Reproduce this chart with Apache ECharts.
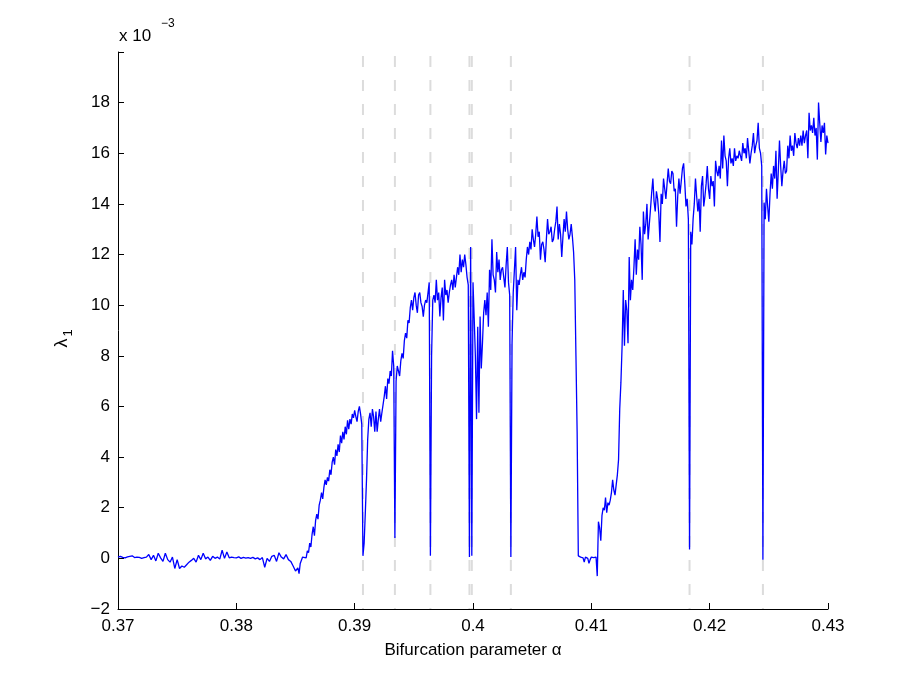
<!DOCTYPE html>
<html>
<head>
<meta charset="utf-8">
<script src="https://cdn.jsdelivr.net/npm/echarts@6/dist/echarts.min.js"></script>
<style>
  html, body { margin: 0; padding: 0; background: #fff; }
  #chart { width: 913px; height: 684px; }
</style>
</head>
<body>
<div id="chart"></div>
<script>
// lambda_1 (x 1e-3) against bifurcation parameter alpha
var quietPart = [
    [0.3700, 0.05], [0.3702, 0.08], [0.3704, 0.04], [0.3706, 0.02], [0.3708, 0.06], [0.3710, 0.08],
    [0.3712, 0.10], [0.3714, 0.03], [0.3716, 0.05], [0.3718, 0.04], [0.3720, 0.00], [0.3722, 0.03],
    [0.3724, 0.05], [0.3726, 0.15], [0.3728, -0.05], [0.3730, 0.12], [0.3732, -0.10], [0.3734, 0.20],
    [0.3736, 0.02], [0.3738, -0.12], [0.3740, 0.20], [0.3742, -0.05], [0.3744, -0.15], [0.3746, 0.05],
    [0.3748, -0.40], [0.3750, -0.05], [0.3752, -0.40], [0.3754, -0.30], [0.3756, -0.35], [0.3758, -0.25],
    [0.3760, -0.15], [0.3762, -0.08], [0.3764, 0.00], [0.3766, -0.15], [0.3768, 0.12], [0.3770, -0.05],
    [0.3772, 0.20], [0.3774, -0.02], [0.3776, 0.05], [0.3778, -0.08], [0.3780, 0.08], [0.3782, 0.00],
    [0.3784, 0.05], [0.3786, -0.03], [0.3788, 0.32], [0.3790, 0.00], [0.3792, 0.25], [0.3794, 0.02],
    [0.3796, 0.05], [0.3798, 0.03], [0.3800, 0.02], [0.3802, 0.06], [0.3804, 0.00], [0.3806, 0.04],
    [0.3808, 0.01], [0.3810, 0.03], [0.3812, 0.00], [0.3814, 0.04], [0.3816, -0.02], [0.3818, 0.02],
    [0.3820, -0.05], [0.3822, 0.03], [0.3824, -0.35], [0.3826, 0.00], [0.3828, -0.12], [0.3830, 0.08],
    [0.3832, 0.12], [0.3834, -0.12], [0.3836, 0.22], [0.3838, 0.05], [0.3840, -0.02], [0.3842, 0.15],
    [0.3844, -0.05], [0.3846, -0.12], [0.3848, -0.30], [0.3850, -0.50], [0.3852, -0.38], [0.3853, -0.60],
    [0.3854, -0.20]
];

var firstRise = [
    [0.3856, 0.05], [0.3857, 0.12], [0.3859, 0.02], [0.3860, 0.30], [0.3861, 0.22], [0.3862, 0.60],
    [0.3863, 0.45], [0.3864, 0.95], [0.3865, 1.25], [0.3866, 0.90], [0.3867, 1.50], [0.3868, 1.75],
    [0.3869, 1.55], [0.3870, 2.10], [0.3871, 2.30], [0.3872, 2.60], [0.3873, 2.35], [0.3874, 2.80],
    [0.3875, 3.10], [0.3876, 2.90], [0.3877, 3.20], [0.3878, 3.05], [0.3879, 3.50], [0.3880, 3.30],
    [0.3881, 3.80], [0.3882, 4.00], [0.3883, 3.70], [0.3884, 4.30], [0.3885, 4.05], [0.3886, 4.50],
    [0.3887, 4.20], [0.3888, 4.85], [0.3889, 4.55], [0.3890, 5.00], [0.3891, 4.70], [0.3892, 5.20],
    [0.3893, 4.90], [0.3894, 5.45], [0.3895, 5.10], [0.3896, 5.50], [0.3897, 5.30], [0.3898, 5.70],
    [0.3899, 5.55], [0.3900, 5.85], [0.3901, 5.60], [0.3902, 5.40], [0.3903, 5.80], [0.3904, 6.00],
    [0.3905, 5.70], [0.3906, 5.30], [0.3907, 0.10], [0.3908, 0.60], [0.3909, 1.80], [0.3910, 3.10],
    [0.3911, 4.70], [0.3912, 5.50], [0.3913, 5.75], [0.3914, 5.20], [0.3915, 5.90], [0.3916, 5.60],
    [0.3917, 5.00], [0.3918, 5.80], [0.3919, 5.00], [0.3920, 5.50], [0.3921, 5.90], [0.3922, 5.40],
    [0.3923, 5.75], [0.3925, 6.40], [0.3926, 6.80], [0.3927, 6.30], [0.3928, 7.10], [0.3929, 6.90],
    [0.3930, 7.40], [0.3931, 7.20], [0.3932, 8.20], [0.3933, 7.60], [0.3934, 0.80], [0.3935, 7.00],
    [0.3936, 7.60], [0.3937, 7.40], [0.3938, 7.20], [0.3939, 7.80], [0.3940, 8.10], [0.3941, 7.90],
    [0.3942, 8.60], [0.3943, 8.90], [0.3944, 8.70], [0.3945, 9.40], [0.3946, 9.30], [0.3947, 9.90],
    [0.3948, 10.20], [0.3949, 9.80], [0.3950, 10.30], [0.3951, 10.50], [0.3952, 10.00], [0.3953, 9.70],
    [0.3954, 10.40], [0.3955, 10.50], [0.3956, 10.10], [0.3957, 9.95], [0.3958, 9.55], [0.3959, 10.00],
    [0.3960, 10.20], [0.3961, 10.10], [0.3962, 10.50], [0.3963, 10.90], [0.3964, 0.10], [0.3965, 8.00],
    [0.3966, 10.20], [0.3967, 10.40], [0.3968, 10.10], [0.3969, 11.00], [0.3970, 10.20], [0.3971, 10.50],
    [0.3972, 9.55], [0.3973, 10.30], [0.3974, 10.70], [0.3975, 9.40], [0.3976, 11.00], [0.3977, 10.40],
    [0.3978, 10.60], [0.3979, 10.10], [0.3980, 10.50], [0.3981, 10.80], [0.3982, 11.00], [0.3983, 10.60],
    [0.3984, 11.20], [0.3985, 10.70], [0.3986, 11.10], [0.3987, 11.50], [0.3988, 11.20], [0.3989, 12.00],
    [0.3990, 11.30], [0.3991, 11.80], [0.3992, 11.50], [0.3993, 12.00], [0.3994, 11.60], [0.3995, 11.10],
    [0.3996, 10.80], [0.3997, 0.05], [0.3998, 12.30], [0.3999, 0.10]
];

var secondBranch = [
    [0.4000, 10.90], [0.4001, 9.50], [0.4002, 8.00], [0.4003, 5.50], [0.4004, 9.15], [0.4005, 5.75],
    [0.4006, 9.55], [0.4007, 7.50], [0.4008, 8.50], [0.4009, 9.70], [0.4010, 10.20], [0.4011, 9.60],
    [0.4012, 10.50], [0.4013, 9.15], [0.4014, 11.40], [0.4015, 10.60], [0.4016, 12.60], [0.4017, 11.20],
    [0.4018, 11.00], [0.4019, 10.50], [0.4020, 12.10], [0.4021, 11.30], [0.4022, 11.80], [0.4023, 11.00],
    [0.4024, 11.40], [0.4025, 11.50], [0.4026, 11.10], [0.4027, 10.70], [0.4028, 11.60], [0.4029, 12.30],
    [0.4030, 10.90], [0.4031, 10.40], [0.4032, 0.05], [0.4033, 8.50], [0.4034, 10.50], [0.4035, 11.40],
    [0.4036, 12.30], [0.4037, 9.80], [0.4038, 11.00], [0.4039, 10.80], [0.4040, 11.20], [0.4041, 11.50],
    [0.4042, 11.00], [0.4043, 11.30], [0.4044, 11.10], [0.4045, 11.80], [0.4046, 12.30], [0.4047, 12.00],
    [0.4048, 12.50], [0.4049, 12.20], [0.4050, 13.00], [0.4051, 12.60], [0.4052, 12.30], [0.4053, 12.80],
    [0.4054, 13.50], [0.4055, 12.70], [0.4056, 12.90], [0.4057, 11.80], [0.4058, 12.40], [0.4059, 12.50],
    [0.4060, 12.20], [0.4061, 11.70], [0.4062, 12.60], [0.4063, 13.40], [0.4064, 12.80], [0.4065, 12.90],
    [0.4066, 13.10], [0.4067, 12.50], [0.4068, 12.60], [0.4069, 13.00], [0.4070, 13.30], [0.4071, 13.90],
    [0.4072, 12.60], [0.4073, 13.20], [0.4074, 12.80], [0.4075, 11.90], [0.4076, 12.70], [0.4077, 13.40],
    [0.4078, 12.90], [0.4079, 13.70], [0.4080, 13.00], [0.4081, 12.60], [0.4082, 12.80], [0.4083, 13.20],
    [0.4084, 12.70], [0.4085, 12.10], [0.4086, 11.00], [0.4087, 8.00], [0.4088, 5.00], [0.4089, 0.10]
];

var thirdBranch = [
    [0.4091, 0.05], [0.4093, 0.02], [0.4094, -0.15], [0.4095, 0.05], [0.4097, 0.00], [0.4098, -0.20],
    [0.4099, -0.05], [0.4100, 0.05], [0.4102, 0.03], [0.4104, 0.05], [0.4105, -0.70], [0.4106, 1.45],
    [0.4107, 1.20], [0.4108, 0.70], [0.4109, 1.70], [0.4110, 2.00], [0.4111, 1.90], [0.4112, 2.40],
    [0.4113, 1.80], [0.4114, 2.20], [0.4115, 2.10], [0.4116, 2.30], [0.4117, 2.60], [0.4118, 3.10],
    [0.4119, 2.70], [0.4120, 2.50], [0.4121, 2.90], [0.4122, 3.30], [0.4123, 3.90], [0.4124, 5.90],
    [0.4125, 6.95], [0.4126, 8.40], [0.4127, 10.60], [0.4128, 8.40], [0.4129, 10.20], [0.4130, 9.80],
    [0.4131, 8.50], [0.4132, 11.90], [0.4133, 10.20], [0.4134, 11.00], [0.4135, 10.60], [0.4136, 11.50],
    [0.4137, 12.60], [0.4138, 11.20], [0.4139, 12.20], [0.4140, 11.80], [0.4141, 13.10], [0.4142, 12.40],
    [0.4143, 11.00], [0.4144, 13.70], [0.4145, 12.80], [0.4146, 13.20], [0.4147, 14.00], [0.4148, 12.60],
    [0.4149, 13.20], [0.4150, 13.80], [0.4151, 14.45], [0.4152, 15.00], [0.4153, 14.10], [0.4154, 13.70],
    [0.4155, 14.50], [0.4156, 14.20], [0.4157, 13.60], [0.4158, 12.50], [0.4159, 14.40], [0.4160, 14.00],
    [0.4161, 15.00], [0.4162, 14.60], [0.4163, 14.20], [0.4164, 14.80], [0.4165, 15.40], [0.4166, 14.90],
    [0.4167, 14.80], [0.4168, 15.30], [0.4169, 15.20], [0.4170, 14.50], [0.4171, 14.60], [0.4172, 13.10],
    [0.4173, 14.30], [0.4174, 15.00], [0.4175, 14.40], [0.4176, 14.90], [0.4177, 15.40], [0.4178, 15.60],
    [0.4179, 14.80], [0.4180, 13.90], [0.4181, 14.20], [0.4182, 13.40], [0.4183, 0.35]
];

var lastBranch = [
    [0.4184, 12.90], [0.4185, 12.40], [0.4186, 13.40], [0.4187, 14.00], [0.4188, 15.00], [0.4189, 14.30],
    [0.4190, 13.70], [0.4191, 14.20], [0.4192, 12.90], [0.4193, 14.70], [0.4194, 15.10], [0.4195, 13.90],
    [0.4196, 14.30], [0.4197, 14.80], [0.4198, 15.50], [0.4199, 14.60], [0.4200, 14.20], [0.4201, 15.10],
    [0.4202, 14.70], [0.4203, 14.90], [0.4204, 13.90], [0.4205, 15.70], [0.4206, 15.30], [0.4207, 15.10],
    [0.4208, 15.50], [0.4209, 15.00], [0.4210, 16.50], [0.4211, 15.40], [0.4212, 16.70], [0.4213, 15.90],
    [0.4214, 15.70], [0.4215, 14.70], [0.4216, 15.80], [0.4217, 16.20], [0.4218, 15.60], [0.4219, 15.80],
    [0.4220, 15.50], [0.4221, 16.20], [0.4222, 15.70], [0.4223, 15.90], [0.4224, 15.80], [0.4225, 16.10],
    [0.4226, 15.90], [0.4227, 15.70], [0.4228, 16.40], [0.4229, 16.00], [0.4230, 16.20], [0.4231, 15.80],
    [0.4232, 16.60], [0.4233, 16.10], [0.4234, 15.60], [0.4235, 16.00], [0.4236, 16.30], [0.4237, 16.80],
    [0.4238, 16.00], [0.4239, 16.30], [0.4240, 16.50], [0.4241, 17.20], [0.4242, 16.20], [0.4243, 16.00],
    [0.4244, 15.50], [0.4245, -0.05], [0.4246, 14.05], [0.4247, 13.40], [0.4248, 14.60], [0.4249, 13.90],
    [0.4250, 13.30], [0.4251, 14.40], [0.4252, 15.20], [0.4253, 14.60], [0.4254, 15.50], [0.4255, 15.00],
    [0.4256, 16.10], [0.4257, 14.20], [0.4258, 15.30], [0.4259, 16.50], [0.4260, 15.50], [0.4261, 14.70],
    [0.4262, 15.30], [0.4263, 15.70], [0.4264, 15.20], [0.4265, 15.30], [0.4266, 16.30], [0.4267, 15.80],
    [0.4268, 16.70], [0.4269, 16.10], [0.4270, 16.30], [0.4271, 15.90], [0.4272, 16.80], [0.4273, 16.40],
    [0.4274, 16.20], [0.4275, 16.60], [0.4276, 16.30], [0.4277, 16.70], [0.4278, 16.30], [0.4279, 16.90],
    [0.4280, 16.40], [0.4281, 16.70], [0.4282, 16.90], [0.4283, 15.80], [0.4284, 17.60], [0.4285, 16.90],
    [0.4286, 17.10], [0.4287, 16.80], [0.4288, 17.40], [0.4289, 16.70], [0.4290, 17.00], [0.4291, 15.75],
    [0.4292, 18.00], [0.4293, 17.20], [0.4294, 16.45], [0.4295, 17.10], [0.4296, 16.80], [0.4297, 17.20],
    [0.4298, 15.95], [0.4299, 16.70], [0.4300, 16.40]
];

// alpha values of the grey dashed markers
var dashedAlpha = [0.3907, 0.3934, 0.3964, 0.3997, 0.3999, 0.4032, 0.4183, 0.4245];

var yTicks = [-2, 0, 2, 4, 6, 8, 10, 12, 14, 16, 18];

var fontName = '"Liberation Sans", Arial, Helvetica, sans-serif';

var lambdaData = quietPart.concat(firstRise, secondBranch, thirdBranch, lastBranch);

var chart = echarts.init(document.getElementById('chart'));

// one vertical dashed series per marker, from the bottom to the top of the y range
var dashedSeries = dashedAlpha.map(function (a) {
    return {
        type: 'line',
        z: 1,
        silent: true,
        showSymbol: false,
        symbol: 'none',
        data: [[a, -2], [a, 20]],
        lineStyle: { color: '#dcdcdc', type: [11, 13], dashOffset: 10, width: 2 }
    };
});

var option = {
    animation: false,
    backgroundColor: '#fff',
    grid: { left: 118, right: 85, top: 52, bottom: 75 },
    xAxis: {
        type: 'value',
        min: 0.37,
        max: 0.43,
        interval: 0.01,
        name: 'Bifurcation parameter α',
        nameLocation: 'middle',
        nameGap: 33,
        nameTextStyle: { color: '#000', fontSize: 17, fontFamily: fontName },
        axisLine: { onZero: false, lineStyle: { color: '#000', width: 1 } },
        axisTick: { inside: true, length: 6, lineStyle: { color: '#000' } },
        axisLabel: {
            color: '#000', fontSize: 17, fontFamily: fontName, margin: 9,
            formatter: function (v) { return String(parseFloat(v.toFixed(2))); }
        },
        splitLine: { show: false }
    },
    yAxis: {
        type: 'value',
        min: -2,
        max: 20,
        interval: 2,
        axisLine: { show: true, onZero: false, lineStyle: { color: '#000', width: 1 } },
        axisTick: { inside: true, length: 6, lineStyle: { color: '#000' } },
        axisLabel: {
            color: '#000', fontSize: 17, fontFamily: fontName, margin: 8,
            formatter: function (v) {
                return yTicks.indexOf(v) >= 0 ? String(v).replace('-', '\u2212') : '';
            }
        },
        splitLine: { show: false }
    },
    graphic: [
        {
            type: 'group', x: 62, y: 343, rotation: Math.PI / 2,
            children: [
                { type: 'text', x: 0, y: 0, style: { text: 'λ', font: '18px ' + fontName, fill: '#000', textAlign: 'center', textVerticalAlign: 'middle' } },
                { type: 'text', x: 10, y: 6, style: { text: '1', font: '13px ' + fontName, fill: '#000', textAlign: 'center', textVerticalAlign: 'middle' } }
            ]
        },
        { type: 'text', x: 119, y: 28, style: { text: 'x 10', font: '17px ' + fontName, fill: '#000' } },
        { type: 'text', x: 161, y: 18, style: { text: '\u22123', font: '12px ' + fontName, fill: '#000' } }
    ],
    series: dashedSeries.concat([
        {
            name: 'lambda1',
            type: 'line',
            z: 3,
            data: lambdaData,
            showSymbol: false,
            symbol: 'none',
            lineStyle: { color: '#0000ff', width: 1.3 }
        }
    ])
};
chart.setOption(option);
</script>
</body>
</html>
